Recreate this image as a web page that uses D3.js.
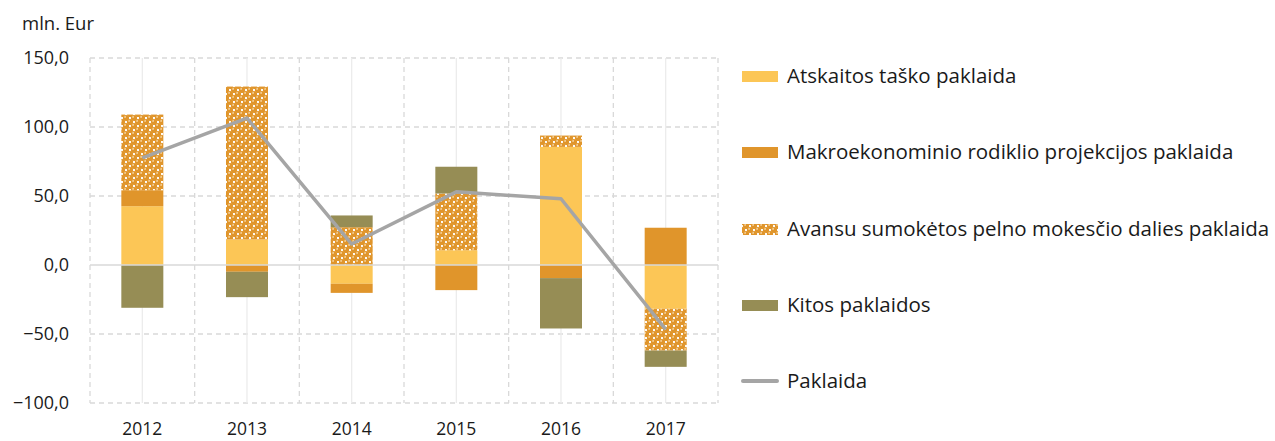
<!DOCTYPE html>
<html>
<head>
<meta charset="utf-8">
<script src="https://cdn.jsdelivr.net/npm/d3@7"></script>
<style>
  body { margin: 0; background: #fff; }
  text { font-family: "Open Sans", "Noto Sans", sans-serif; fill: #1a1a1a; }
</style>
</head>
<body>
<script>
var w = 1275;
var h = 441;

var years = ["2012", "2013", "2014", "2015", "2016", "2017"];
var atskaitos = [42.6, 18.5, -13.6, 10.7, 85.6, -31.7];
var makro = [11.6, -4.9, -6.6, -18.2, -9.5, 27.0];
var avansu = [54.8, 110.8, 27.4, 41.1, 8.2, -30.3];
var kitos = [-31.0, -18.4, 8.5, 19.4, -36.5, -11.8];
var paklaida = [77.7, 106.5, 15.2, 53.0, 48.0, -46.7];
var yTicks = [150, 100, 50, 0, -50, -100];

var seriesNames = [
    "Atskaitos taško paklaida",
    "Makroekonominio rodiklio projekcijos paklaida",
    "Avansu sumokėtos pelno mokesčio dalies paklaida",
    "Kitos paklaidos"
];
var seriesColors = ["#fcc656", "#e0952b", "url(#spheres)", "#968d55"];

var keys = ["a", "m", "v", "k"];
var table = years.map(function(y, i){
    return { year: y, a: atskaitos[i], m: makro[i], v: avansu[i], k: kitos[i] };
});

var plotLeft = 90, plotRight = 718, plotTop = 58, plotBottom = 403;

var xScale = d3.scaleBand()
    .domain(years)
    .range([plotLeft, plotRight]);

var yScale = d3.scaleLinear()
    .domain([-100, 150])
    .range([plotBottom, plotTop]);

var svg = d3.select("body")
    .append("svg")
    .attr("width", w)
    .attr("height", h);

// sphere pattern (like the Excel "spheres" fill)
var defs = svg.append("defs");
var pat = defs.append("pattern")
    .attr("id", "spheres")
    .attr("patternUnits", "userSpaceOnUse")
    .attr("width", 8)
    .attr("height", 8);
pat.append("rect").attr("width", 8).attr("height", 8).attr("fill", "#ffffff");
[[2, 2], [6, 6], [-2, 6], [6, -2], [10, 6], [6, 10], [2, 10], [10, 2], [-2, -2]].forEach(function(c){
    pat.append("circle").attr("cx", c[0]).attr("cy", c[1]).attr("r", 3.1).attr("fill", "#e0952b");
    pat.append("circle").attr("cx", c[0] - 0.9).attr("cy", c[1] - 1.1).attr("r", 0.9).attr("fill", "#f8d9a8");
});

// gridlines
var grid = svg.append("g");
grid.selectAll("line.h")
    .data(yTicks.filter(function(d){ return d !== 0; }))
    .enter()
    .append("line")
    .attr("x1", plotLeft).attr("x2", plotRight)
    .attr("y1", function(d){ return yScale(d); })
    .attr("y2", function(d){ return yScale(d); })
    .attr("stroke", "#d9d9d9")
    .attr("stroke-width", 1.3)
    .attr("stroke-dasharray", "5,4");

var bounds = years.map(function(y){ return xScale(y); }).concat([plotRight]);
grid.selectAll("line.vb")
    .data(bounds)
    .enter()
    .append("line")
    .attr("x1", function(d){ return d; })
    .attr("x2", function(d){ return d; })
    .attr("y1", plotTop).attr("y2", plotBottom)
    .attr("stroke", "#d9d9d9")
    .attr("stroke-width", 1.3)
    .attr("stroke-dasharray", "5,4");

grid.selectAll("line.vc")
    .data(years)
    .enter()
    .append("line")
    .attr("x1", function(d){ return xScale(d) + xScale.bandwidth() / 2; })
    .attr("x2", function(d){ return xScale(d) + xScale.bandwidth() / 2; })
    .attr("y1", plotTop).attr("y2", plotBottom)
    .attr("stroke", "#ececec")
    .attr("stroke-width", 1.3);

// stacked bars
var stack = d3.stack()
    .keys(keys)
    .offset(d3.stackOffsetDiverging);
var layers = stack(table);
var barW = 42;

svg.selectAll("g.layer")
    .data(layers)
    .enter()
    .append("g")
    .attr("fill", function(d, i){ return seriesColors[i]; })
    .selectAll("rect")
    .data(function(d){ return d; })
    .enter()
    .append("rect")
    .attr("x", function(d){ return xScale(d.data.year) + xScale.bandwidth() / 2 - barW / 2; })
    .attr("y", function(d){ return yScale(Math.max(d[0], d[1])); })
    .attr("width", barW)
    .attr("height", function(d){ return Math.abs(yScale(d[0]) - yScale(d[1])); });

// zero line
svg.append("line")
    .attr("x1", plotLeft).attr("x2", plotRight)
    .attr("y1", yScale(0)).attr("y2", yScale(0))
    .attr("stroke", "#d9d9d9")
    .attr("stroke-width", 1.5);

// total line
var line = d3.line()
    .x(function(d, i){ return xScale(years[i]) + xScale.bandwidth() / 2; })
    .y(function(d){ return yScale(d); });

svg.append("path")
    .datum(paklaida)
    .attr("d", line)
    .attr("fill", "none")
    .attr("stroke", "#a5a5a5")
    .attr("stroke-width", 3.5)
    .attr("stroke-linejoin", "round");

// axes labels
var fmt = function(d){
    return (d < 0 ? "\u2212" : "") + Math.abs(d).toFixed(1).replace(".", ",");
};
svg.selectAll("text.ytick")
    .data(yTicks)
    .enter()
    .append("text")
    .attr("x", 69)
    .attr("y", function(d){ return yScale(d) + 6; })
    .attr("text-anchor", "end")
    .style("font-size", "18px")
    .text(fmt);

svg.selectAll("text.xtick")
    .data(years)
    .enter()
    .append("text")
    .attr("x", function(d){ return xScale(d) + xScale.bandwidth() / 2; })
    .attr("y", 435)
    .attr("text-anchor", "middle")
    .style("font-size", "17.5px")
    .text(function(d){ return d; });

svg.append("text")
    .attr("x", 22)
    .attr("y", 30)
    .style("font-size", "18.5px")
    .text("mln. Eur");

// legend
var legY = [76, 152, 229, 305, 381];
var leg = svg.append("g");
seriesNames.forEach(function(name, i){
    leg.append("rect")
        .attr("x", 742)
        .attr("y", legY[i] - 5)
        .attr("width", 36)
        .attr("height", 11)
        .attr("fill", seriesColors[i]);
    leg.append("text")
        .attr("x", 787)
        .attr("y", legY[i] + 7)
        .style("font-size", "20.5px")
        .text(name);
});
leg.append("line")
    .attr("x1", 743).attr("x2", 777)
    .attr("y1", legY[4]).attr("y2", legY[4])
    .attr("stroke", "#a5a5a5")
    .attr("stroke-width", 4)
    .attr("stroke-linecap", "round");
leg.append("text")
    .attr("x", 787)
    .attr("y", legY[4] + 7)
    .style("font-size", "20.5px")
    .text("Paklaida");
</script>
</body>
</html>
